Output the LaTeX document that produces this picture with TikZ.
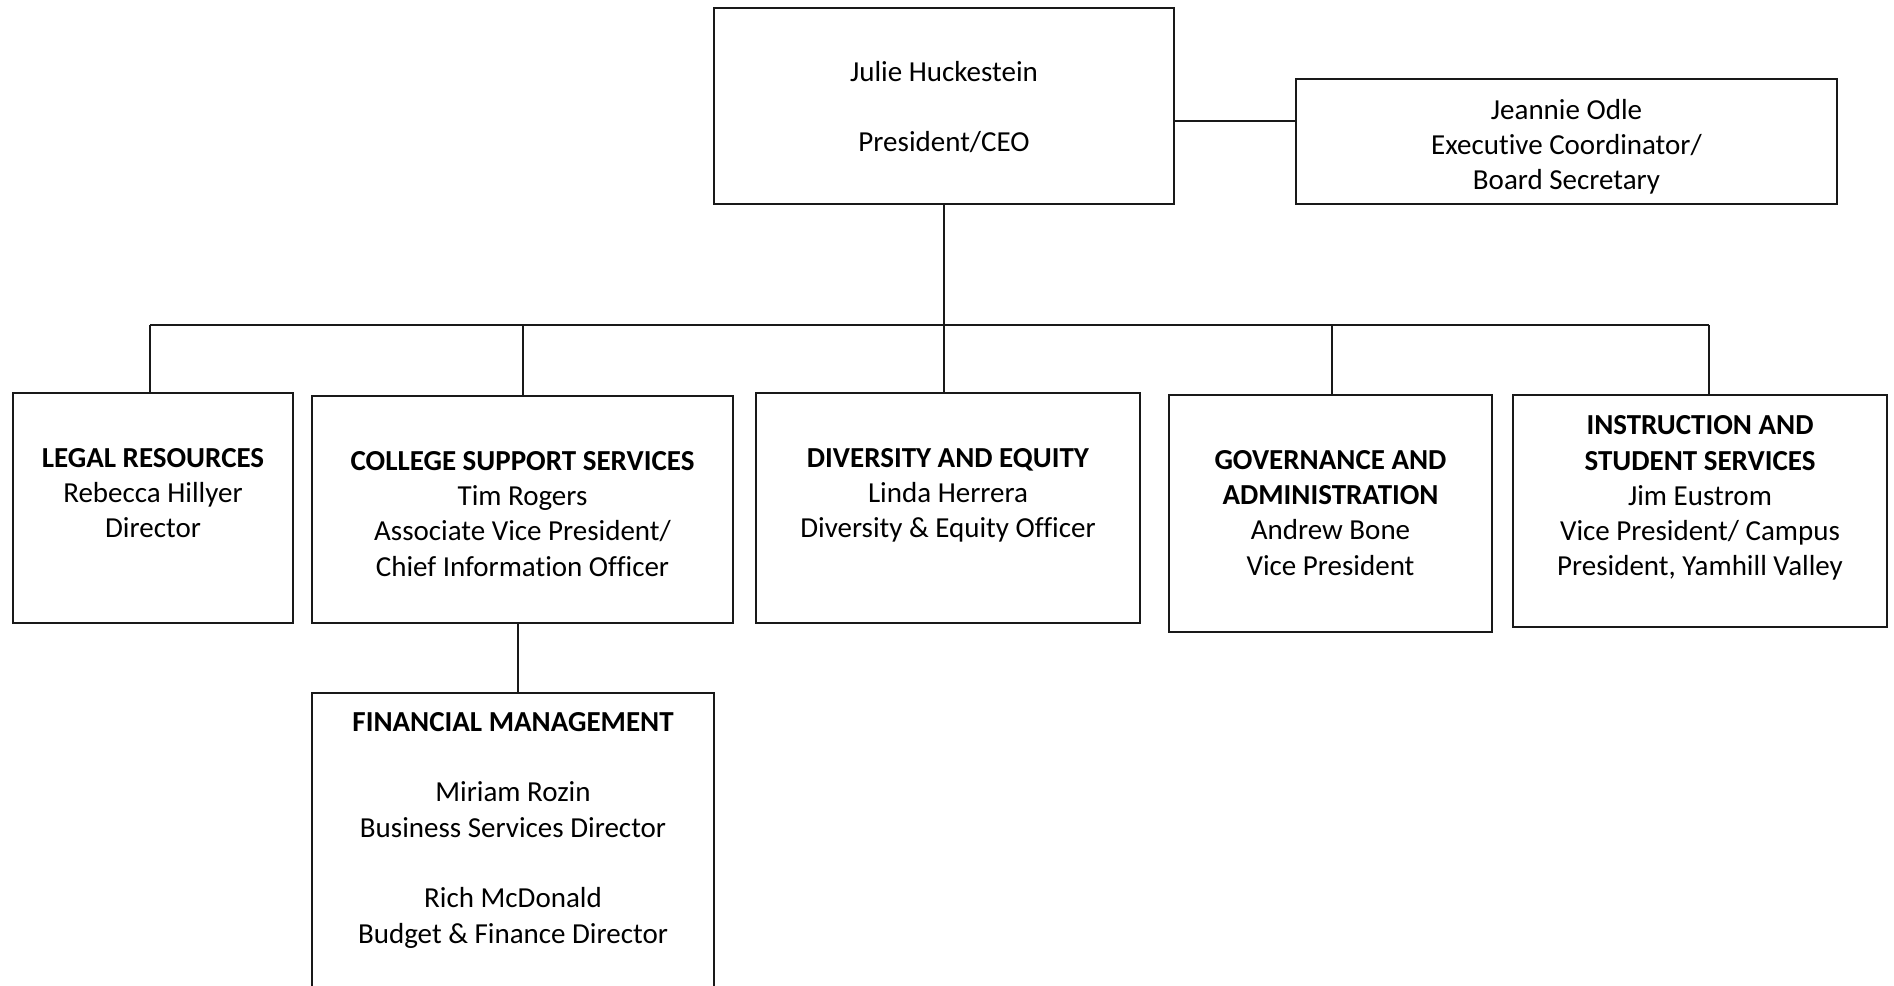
\documentclass[tikz,border=0pt]{standalone}
\usepackage{fontspec}
\setmainfont{Carlito}[Ligatures={NoCommon}]
\newcommand\fz{\fontsize{29}{35.3}\selectfont}
\begin{document}
\begin{tikzpicture}[x=1pt,y=-1pt,
  box/.style={draw=black!90, line width=2.6pt, inner sep=0pt, rectangle},
  txt/.style={inner sep=0pt, align=center, anchor=north, font=\fz, text=black},
  conn/.style={draw=black!90, line width=2pt},
  busline/.style={draw=black!90, line width=2.4pt}]
\clip (0,0) rectangle (1894,985);
\fill[white] (0,0) rectangle (1894,985);
% boxes
\node[box, minimum width=460, minimum height=196] (pres) at (944,106) {};
\node[box, minimum width=541, minimum height=125] (jean) at (1566.5,141.5) {};
\node[box, minimum width=280, minimum height=230] (legal) at (153,508) {};
\node[box, minimum width=421, minimum height=227] (coll) at (522.5,509.5) {};
\node[box, minimum width=384, minimum height=230] (div) at (948,508) {};
\node[box, minimum width=323, minimum height=237] (gov) at (1330.5,513.5) {};
\node[box, minimum width=374, minimum height=232] (inst) at (1700,511) {};
\node[box, minimum width=402, minimum height=302] (fin) at (513,844) {};
% texts
\node[txt] (presT) at (944,56.3) {\strut Julie Huckestein\\[35.3pt]President/CEO};
\node[txt] (jeanT) at (1566.5,94.3) {\strut Jeannie Odle\\Executive Coordinator/\\Board Secretary};
\node[txt] (legalT) at (153,442.3) {\strut\textbf{LEGAL RESOURCES}\\Rebecca Hillyer\\Director};
\node[txt] (collT) at (522.5,445.3) {\strut\textbf{COLLEGE SUPPORT SERVICES}\\Tim Rogers\\Associate Vice President/\\Chief Information Officer};
\node[txt] (divT) at (948,442.3) {\strut\textbf{DIVERSITY AND EQUITY}\\Linda Herrera\\Diversity \& Equity Officer};
\node[txt] (govT) at (1330.5,444.3) {\strut\textbf{GOVERNANCE AND}\\\textbf{ADMINISTRATION}\\Andrew Bone\\Vice President};
\node[txt] (instT) at (1700,409.8) {\strut\textbf{INSTRUCTION AND}\\\textbf{STUDENT SERVICES}\\Jim Eustrom\\Vice President/ Campus\\President, Yamhill Valley};
\node[txt] (finT) at (513,706.3) {\strut\textbf{FINANCIAL MANAGEMENT}\\[35.3pt]Miriam Rozin\\Business Services Director\\[35.3pt]Rich McDonald\\Budget \& Finance Director};
% connector coordinates
\coordinate (jy) at (0,121);
\coordinate (bus) at (0,325);
\coordinate (d1) at (150,325);
\coordinate (d2) at (523,325);
\coordinate (d3) at (944,325);
\coordinate (d4) at (1332,325);
\coordinate (d5) at (1709,325);
\coordinate (fx) at (518,0);
% connectors
\draw[conn] (pres.east |- jy) -- (jean.west |- jy);
\draw[conn] (pres.south) -- (pres.south |- bus);
\draw[busline] (d1) -- (d5);
\draw[conn] (d1) -- (legal.north -| d1);
\draw[conn] (d2) -- (coll.north -| d2);
\draw[conn] (d3) -- (div.north -| d3);
\draw[conn] (d4) -- (gov.north -| d4);
\draw[conn] (d5) -- (inst.north -| d5);
\draw[conn] (coll.south -| fx) -- (fin.north -| fx);
\end{tikzpicture}
\end{document}
